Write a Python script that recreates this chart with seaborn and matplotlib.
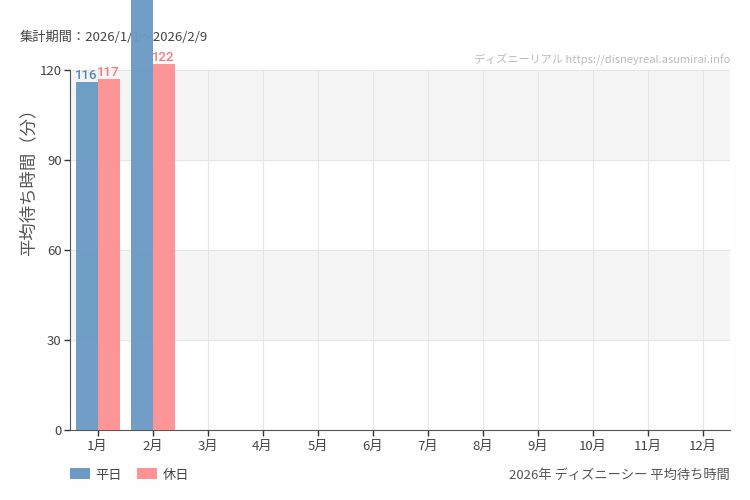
import matplotlib
matplotlib.use("Agg")
import matplotlib.pyplot as plt
import seaborn as sns
import pandas as pd
import numpy as np
from matplotlib.patches import Patch

# --- datos ---
months = [f"{m}月" for m in range(1, 13)]
weekday = [116, 148] + [np.nan] * 10   # 2月 平日 sale del gráfico
holiday = [117, 122] + [np.nan] * 10
series_names = ["平日", "休日"]
colors = ["#6b9bc4", "#fe9294"]
label_colors = ["#5287bd", "#f7787e"]
y_ticks = [0, 30, 60, 90, 120]

sns.set_style("white")
plt.rcParams["font.family"] = ["Noto Sans CJK JP", "DejaVu Sans"]

df = pd.DataFrame({
    "month": months * 2,
    "value": weekday + holiday,
    "kind": [series_names[0]] * 12 + [series_names[1]] * 12,
}).dropna()

fig = plt.figure(figsize=(7.5, 5), dpi=100)
fig.patch.set_facecolor("#fefefe")
ax = fig.add_axes([70 / 750, 70 / 500, 660 / 750, 360 / 500])
ax.set_facecolor("white")

# bandas alternas
ax.axhspan(90, 120, color="#f5f5f5", zorder=0)
ax.axhspan(30, 60, color="#f5f5f5", zorder=0)

sns.barplot(data=df, x="month", y="value", hue="kind", order=months,
            hue_order=series_names, palette=colors, width=0.8,
            saturation=1, linewidth=0, ax=ax, zorder=3)

for cont, c in zip(ax.containers, label_colors):
    for p in cont:
        p.set_clip_on(False)
        p.set_alpha(0.97)
    anns = ax.bar_label(cont, fmt="%d", color=c, fontsize=9.5, padding=0,
                        family=["Roboto", "DejaVu Sans"], fontweight="medium")
    for a, val in zip(anns, cont.datavalues):
        a.set_annotation_clip(False)
        if val > 135:   # la etiqueta queda fuera de la imagen
            a.set_visible(False)

ax.set_ylim(0, 120)
ax.set_xlim(-0.5, 11.5)
ax.set_yticks(y_ticks)
ax.set_xticks(range(12))
ax.set_xticklabels(months)
ax.grid(True, color="#e6e6e6", linewidth=0.8, zorder=1)
ax.set_axisbelow(True)
ax.tick_params(axis="both", length=4, width=1, color="#333333",
               labelcolor="#444444", labelsize=9.5, direction="out")
ax.tick_params(axis="x", pad=3, bottom=True)
ax.tick_params(axis="y", left=True, pad=2)
for s in ["top", "right"]:
    ax.spines[s].set_visible(False)
ax.spines["left"].set_color("#555555")
ax.spines["bottom"].set_color("#555555")
ax.set_xlabel("")
ax.set_ylabel("平均待ち時間（分）", fontsize=12.5, color="#555555")
ax.yaxis.set_label_coords(-0.05, 0.70)
ax.legend_.remove()

# textos
ax.text(20 / 750, 1 - 37 / 500, "集計期間：2026/1/1～2026/2/9", transform=fig.transFigure,
        fontsize=9.5, color="#444444", ha="left", va="center", zorder=0.5, clip_on=False)
fig.text(730 / 750, 1 - 60 / 500, "ディズニーリアル https://disneyreal.asumirai.info",
         fontsize=8, color="#bbbbbb", ha="right", va="center")
fig.text(730 / 750, 1 - 475 / 500, "2026年 ディズニーシー 平均待ち時間",
         fontsize=9.5, color="#555555", ha="right", va="center")

handles = [Patch(facecolor=c, edgecolor="none") for c in colors]
fig.legend(handles, series_names, loc="center left", bbox_to_anchor=(58 / 750, 1 - 475 / 500),
           ncol=2, frameon=False, fontsize=9.5, handlelength=1.5, handleheight=0.9,
           handletextpad=0.45, columnspacing=1.15, labelcolor="#444444")

fig.savefig("out.png", dpi=100, facecolor=fig.get_facecolor())
